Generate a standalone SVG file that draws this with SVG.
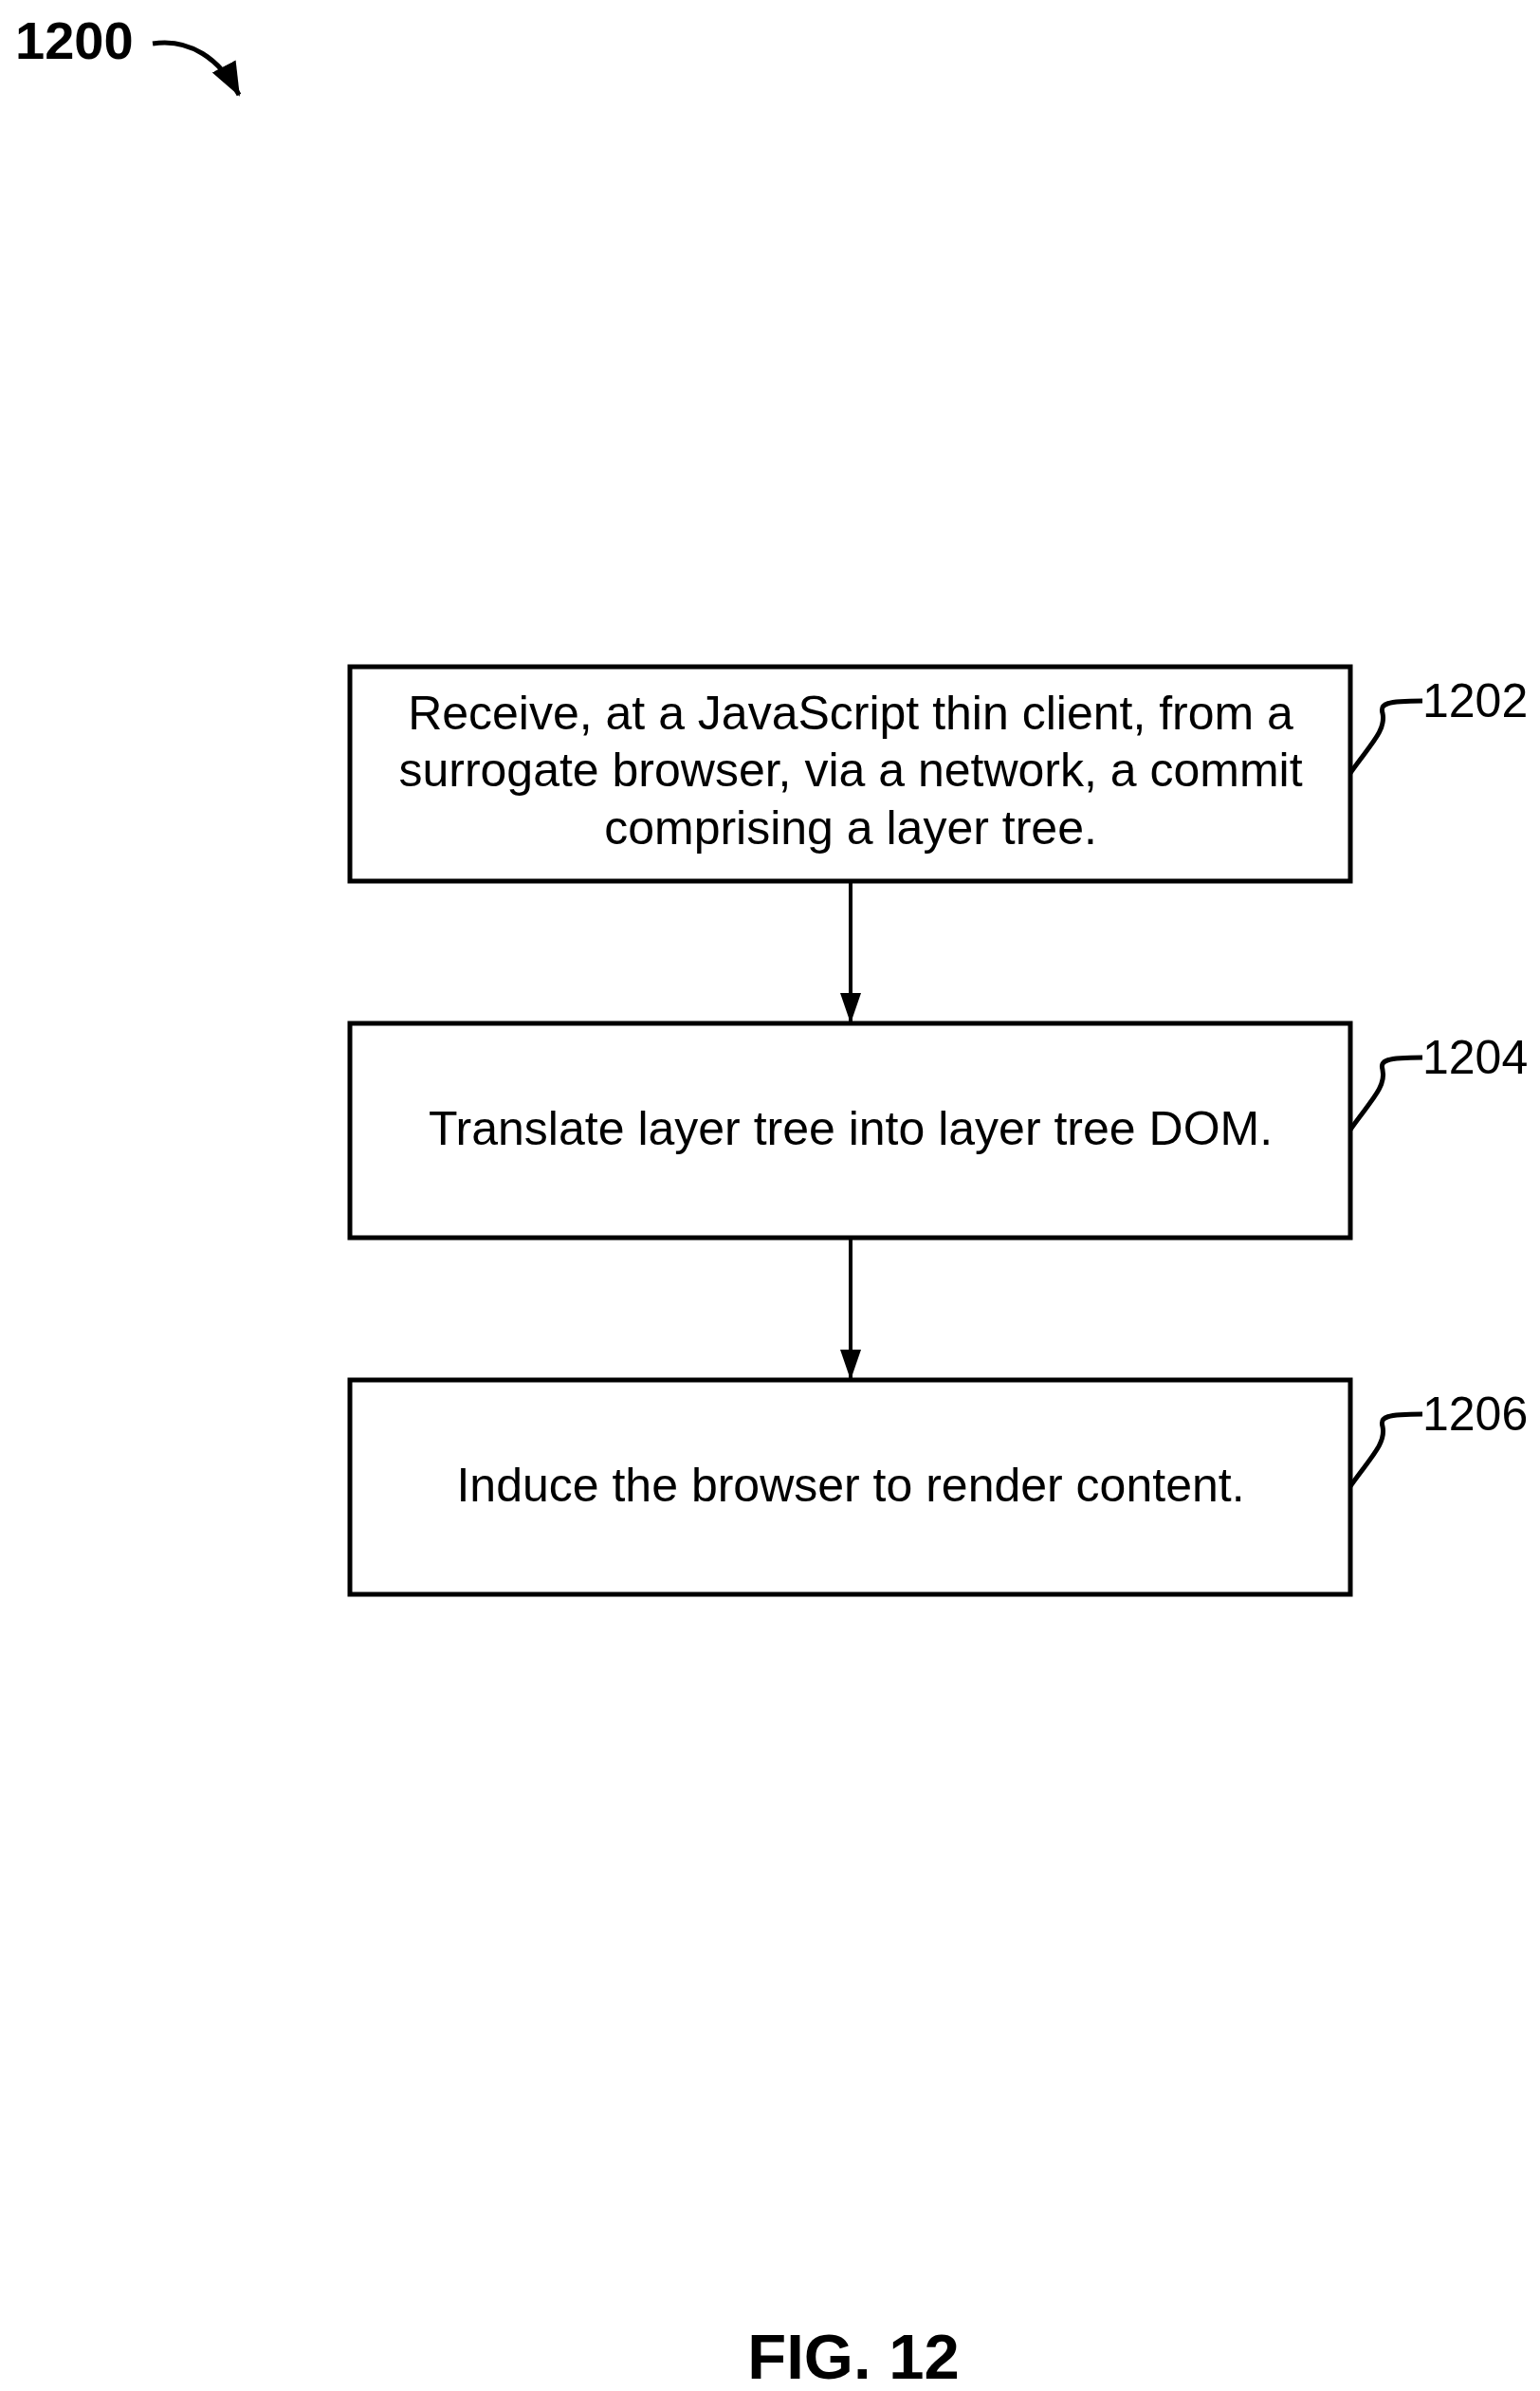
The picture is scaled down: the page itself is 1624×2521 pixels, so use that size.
<svg xmlns="http://www.w3.org/2000/svg" width="1624" height="2521" viewBox="0 0 1624 2521">
<style>
.box{fill:#fff;stroke:#000;stroke-width:5}
.t{font-family:"Liberation Sans",Arial,sans-serif;font-size:50px;text-anchor:middle;fill:#000}
.lbl{font-family:"Liberation Sans",Arial,sans-serif;font-size:50px;fill:#000}
.sq{fill:none;stroke:#000;stroke-width:5}
.c{stroke:#000;stroke-width:4;fill:none}
</style>
<defs>
<marker id="ah2" markerWidth="32" markerHeight="32" refX="30" refY="16" orient="auto" markerUnits="userSpaceOnUse"><path d="M0,5 L32,16 L0,27 Z" fill="#000"/></marker>
<marker id="ah3" markerWidth="36" markerHeight="36" refX="34" refY="18" orient="auto" markerUnits="userSpaceOnUse"><path d="M0,4 L36,18 L0,32 Z" fill="#000"/></marker>
</defs>
<text x="16" y="62" font-family="Liberation Sans,Arial,sans-serif" font-size="56" font-weight="bold">1200</text>
<path d="M161,46 C200,40 232,62 252,100" class="sq" stroke-width="6" marker-end="url(#ah3)"/>
<g id="connectors">
<line x1="897" y1="929" x2="897" y2="1077" class="c" marker-end="url(#ah2)"/>
<line x1="897" y1="1305" x2="897" y2="1453" class="c" marker-end="url(#ah2)"/>
</g>
<g id="n1202">
<rect x="369" y="703" width="1055" height="226" class="box"/>
<text class="t" x="897" y="769">Receive, at a JavaScript thin client, from a</text>
<text class="t" x="897" y="829">surrogate browser, via a network, a commit</text>
<text class="t" x="897" y="890">comprising a layer tree.</text>
<path class="sq" d="M1424,815 C1445,785 1462,770 1458,752 C1455,742 1462,739 1500,739"/>
<text class="lbl" x="1500" y="756">1202</text>
</g>
<g id="n1204">
<rect x="369" y="1079" width="1055" height="226" class="box"/>
<text class="t" x="897" y="1207">Translate layer tree into layer tree DOM.</text>
<path class="sq" d="M1424,1191 C1445,1161 1462,1146 1458,1128 C1455,1118 1462,1115 1500,1115"/>
<text class="lbl" x="1500" y="1132">1204</text>
</g>
<g id="n1206">
<rect x="369" y="1455" width="1055" height="226" class="box"/>
<text class="t" x="897" y="1583">Induce the browser to render content.</text>
<path class="sq" d="M1424,1567 C1445,1537 1462,1522 1458,1504 C1455,1494 1462,1491 1500,1491"/>
<text class="lbl" x="1500" y="1508">1206</text>
</g>
<text x="900" y="2508" font-family="Liberation Sans,Arial,sans-serif" font-size="67" font-weight="bold" text-anchor="middle">FIG. 12</text>
</svg>
